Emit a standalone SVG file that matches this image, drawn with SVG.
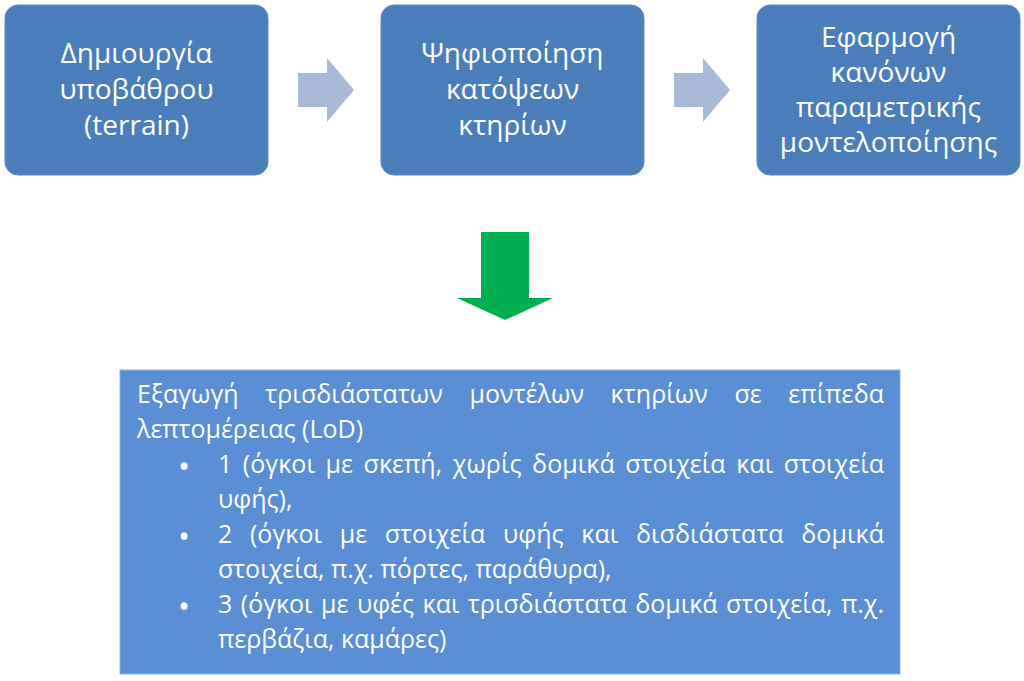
<svg xmlns="http://www.w3.org/2000/svg" width="1024" height="681" viewBox="0 0 1024 681">
<style>
.box{fill:#4A7EBB;stroke:#5A8AC4;stroke-width:1}
.t{font-family:"Open Sans","Noto Sans","DejaVu Sans",sans-serif;fill:#FFFFFF}
.tt{font-size:28px;text-anchor:middle}
.bt{font-size:25px}
.bul{font-size:32px;text-anchor:middle}
.garrow{fill:#A8BAD7}
</style>
<rect width="1024" height="681" fill="#FFFFFF"/>
<g id="node1">
<rect class="box" x="5" y="5" width="263" height="170" rx="13"/>
<text class="t tt" x="136.5" y="63">Δημιουργία</text>
<text class="t tt" x="136.5" y="99">υποβάθρου</text>
<text class="t tt" x="136.5" y="135">(terrain)</text>
</g>
<g id="node2">
<rect class="box" x="381" y="5" width="263" height="170" rx="13"/>
<text class="t tt" x="512.5" y="63">Ψηφιοποίηση</text>
<text class="t tt" x="512.5" y="99">κατόψεων</text>
<text class="t tt" x="512.5" y="135">κτηρίων</text>
</g>
<g id="node3">
<rect class="box" x="757" y="5" width="263" height="170" rx="13"/>
<text class="t tt" x="888.5" y="47">Εφαρμογή</text>
<text class="t tt" x="888.5" y="82">κανόνων</text>
<text class="t tt" x="888.5" y="117">παραμετρικής</text>
<text class="t tt" x="888.5" y="152">μοντελοποίησης</text>
</g>
<g id="connectors">
<polygon class="garrow" points="298,73 327,73 327,58 354,90 327,122 327,107 298,107"/>
<polygon class="garrow" points="674,73 703,73 703,58 730,90 703,122 703,107 674,107"/>
<polygon fill="#00B050" points="481,232 529,232 529,298 553,298 505,320 457,298 481,298"/>
</g>
<g id="node4">
<rect x="120" y="370" width="780" height="304" fill="#5A8ED5" stroke="#8DB3E2" stroke-width="1"/>
<text class="t bt" x="137" y="403" word-spacing="20" textLength="747" lengthAdjust="spacing">Εξαγωγή τρισδιάστατων μοντέλων κτηρίων σε επίπεδα</text>
<text class="t bt" x="137" y="438">λεπτομέρειας (LoD)</text>
<text class="t bul" x="184" y="478">•</text>
<text class="t bt" x="218" y="473" word-spacing="4" textLength="666" lengthAdjust="spacing">1 (όγκοι με σκεπή, χωρίς δομικά στοιχεία και στοιχεία</text>
<text class="t bt" x="218" y="508">υφής),</text>
<text class="t bul" x="184" y="548">•</text>
<text class="t bt" x="218" y="543" word-spacing="11" textLength="666" lengthAdjust="spacing">2 (όγκοι με στοιχεία υφής και δισδιάστατα δομικά</text>
<text class="t bt" x="218" y="578">στοιχεία, π.χ. πόρτες, παράθυρα),</text>
<text class="t bul" x="184" y="618">•</text>
<text class="t bt" x="218" y="613" word-spacing="2" textLength="666" lengthAdjust="spacing">3 (όγκοι με υφές και τρισδιάστατα δομικά στοιχεία, π.χ.</text>
<text class="t bt" x="218" y="648">περβάζια, καμάρες)</text>
</g>
</svg>
